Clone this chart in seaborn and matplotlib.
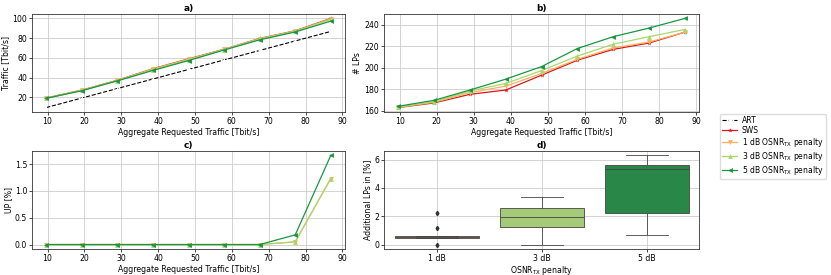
import numpy as np
import pandas as pd
import matplotlib
matplotlib.use("Agg")
import matplotlib.pyplot as plt
import seaborn as sns

# ---- data ----
traffic = [9.65, 19.3, 28.95, 38.6, 48.25, 57.9, 67.55, 77.2, 86.85]

art_traffic = [9.65, 19.3, 28.95, 38.6, 48.25, 57.9, 67.55, 77.2, 86.85]
sws_traffic = [19.3, 27.3, 37.3, 49.0, 59.0, 68.7, 79.7, 87.5, 100.0]
db1_traffic = [19.2, 27.2, 37.2, 48.7, 58.7, 68.6, 79.5, 87.2, 99.6]
db3_traffic = [19.1, 27.0, 37.0, 48.2, 58.2, 68.4, 79.2, 87.0, 99.0]
db5_traffic = [19.0, 26.7, 36.7, 47.3, 57.3, 68.0, 78.3, 86.3, 97.3]

sws_lps = [163.1, 167.4, 175.4, 179.4, 193.2, 207.1, 217.2, 223.1, 233.2]
db1_lps = [163.4, 168.0, 177.0, 183.0, 194.8, 208.0, 218.5, 224.0, 233.2]
db3_lps = [163.4, 168.6, 178.5, 185.5, 197.5, 211.0, 222.0, 229.0, 235.7]
db5_lps = [164.3, 169.8, 179.4, 189.5, 201.2, 218.0, 229.0, 237.0, 246.0]

db1_up = [0, 0, 0, 0, 0, 0, 0, 0.05, 1.23]
db3_up = [0, 0, 0, 0, 0, 0, 0, 0.05, 1.23]
db5_up = [0, 0, 0, 0, 0, 0, 0, 0.18, 1.66]

penalty_labels = ["1 dB", "3 dB", "5 dB"]
add_1db = [0.0, 0.45, 0.45, 0.5, 0.5, 0.55, 0.6, 1.15, 2.2]
add_3db = [0.0, 1.1, 1.27, 1.6, 1.95, 2.3, 2.59, 3.0, 3.36]
add_5db = [0.64, 1.5, 2.26, 4.5, 5.34, 5.5, 5.6, 6.0, 6.3]

series_names = ["SWS", "1 dB OSNR$_{\\mathrm{TX}}$ penalty",
                "3 dB OSNR$_{\\mathrm{TX}}$ penalty", "5 dB OSNR$_{\\mathrm{TX}}$ penalty"]
colors = ["#d7191c", "#fdae61", "#a6d96a", "#1a9641"]
markers = ["*", "v", "^", "<"]

plt.rcParams.update({
    "font.family": ["DejaVu Sans"],
    "font.size": 5.6,
    "axes.linewidth": 0.6,
    "axes.edgecolor": "#333333",
    "xtick.major.width": 0.5, "ytick.major.width": 0.5,
    "xtick.major.size": 2.0, "ytick.major.size": 2.0,
    "xtick.major.pad": 1.5, "ytick.major.pad": 1.5,
    "axes.labelpad": 1.5,
    "axes.titlepad": 2.5,
})

fig = plt.figure(figsize=(8.31, 2.75), dpi=100)
W, H = 831, 275
def ax_at(l, t, r, b):
    return fig.add_axes([l / W, 1 - b / H, (r - l) / W, (b - t) / H])

ax_a = ax_at(32, 14, 345, 112)
ax_b = ax_at(384, 14, 699, 112)
ax_c = ax_at(32, 151, 345, 249)
ax_d = ax_at(384, 151, 699, 249)

xlabel = "Aggregate Requested Traffic [Tbit/s]"

# a)
sns.lineplot(x=traffic, y=art_traffic, ax=ax_a, color="black", marker="+",
             linestyle="--", lw=0.8, markersize=3, label="ART")
for vals, name, c, m in zip([sws_traffic, db1_traffic, db3_traffic, db5_traffic],
                            series_names, colors, markers):
    sns.lineplot(x=traffic, y=vals, ax=ax_a, color=c, marker=m, lw=0.9,
                 markersize=3.5, markeredgewidth=0, label=name)
ax_a.set_ylabel("Traffic [Tbit/s]")
ax_a.set_title("a)", fontweight="bold", fontsize=6.5)

# b)
for vals, name, c, m in zip([sws_lps, db1_lps, db3_lps, db5_lps],
                            series_names, colors, markers):
    sns.lineplot(x=traffic, y=vals, ax=ax_b, color=c, marker=m, lw=0.9,
                 markersize=3.5, markeredgewidth=0)
ax_b.set_ylabel("# LPs")
ax_b.set_title("b)", fontweight="bold", fontsize=6.5)

# c)
for vals, c, m in zip([db1_up, db3_up, db5_up], colors[1:], markers[1:]):
    sns.lineplot(x=traffic, y=vals, ax=ax_c, color=c, marker=m, lw=0.9,
                 markersize=3.5, markeredgewidth=0)
ax_c.set_ylabel("UP [%]")
ax_c.set_title("c)", fontweight="bold", fontsize=6.5)

for ax in (ax_a, ax_b, ax_c):
    ax.set_xlabel(xlabel)
    ax.set_xticks([10, 20, 30, 40, 50, 60, 70, 80, 90])
    ax.grid(True, color="#cccccc", lw=0.6)
    ax.set_axisbelow(True)

# d)
df_box = pd.DataFrame({
    "penalty": [penalty_labels[0]] * len(add_1db) + [penalty_labels[1]] * len(add_3db)
               + [penalty_labels[2]] * len(add_5db),
    "add": add_1db + add_3db + add_5db,
})
sns.boxplot(data=df_box, x="penalty", y="add", hue="penalty", palette=colors[1:],
            ax=ax_d, width=0.8, linewidth=0.6, linecolor="#444444", legend=False,
            flierprops=dict(marker="d", markersize=2.2, markerfacecolor="#333333",
                            markeredgecolor="#333333"))
ax_d.set_xlabel("OSNR$_{\\mathrm{TX}}$ penalty", labelpad=0.5)
ax_d.set_ylabel("Additional LPs in [%]")
ax_d.set_title("d)", fontweight="bold", fontsize=6.5)
ax_d.set_yticks([0, 2, 4, 6])
ax_d.grid(True, color="#cccccc", lw=0.6)
ax_d.set_axisbelow(True)

handles, labels = ax_a.get_legend_handles_labels()
ax_a.get_legend().remove()
fig.legend(handles, labels, loc="upper left", bbox_to_anchor=(716 / W, 1 - 110 / H),
           frameon=True, fontsize=5.5, handlelength=2.0, borderpad=0.3,
           labelspacing=0.12, handletextpad=0.6, framealpha=1, edgecolor="#dddddd")

fig.savefig("out.png", dpi=100)
